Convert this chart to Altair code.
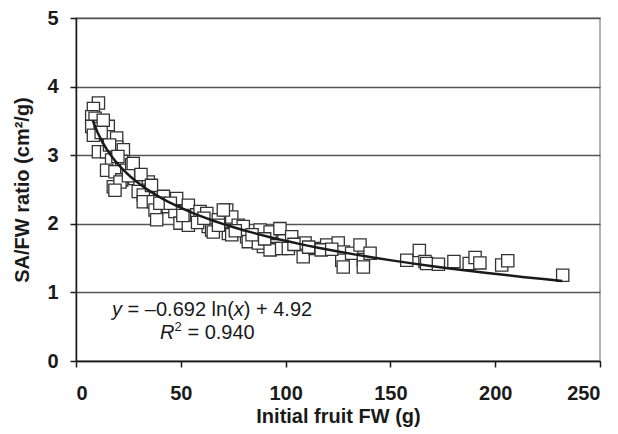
import altair as alt
import pandas as pd

# Initial fruit FW (g)
fw = [10.7, 8.3, 7.5, 9.1, 7.5, 11.5, 15.4, 13.0, 8.3, 15.4, 19.4, 10.7, 14.6, 19.4, 22.6,
      17.0, 21.8, 14.6, 18.6, 24.2, 26.6, 21.8, 28.1, 17.8, 30.5, 34.5, 34.5,
      21.0, 18.6, 27.3, 29.7, 32.1, 32.1, 36.9, 37.7, 41.7, 44.0, 48.0, 47.2, 38.5, 49.6,
      53.6, 56.0, 53.6,
      57.6, 59.2, 62.4, 63.1, 64.7, 67.9, 71.9, 74.3, 72.7, 77.4, 79.8, 81.4, 86.2, 87.8,
      89.4, 94.1, 93.4,
      65.5, 74.3, 82.2, 87.0, 92.6, 70.3,
      92.6, 97.3, 98.1, 102.9, 101.3, 109.3, 108.4, 114.0, 119.6, 125.1, 127.5, 126.8,
      127.5, 131.5, 135.5, 137.1, 137.1, 140.3,
      157.8, 163.8, 166.5, 167.3, 172.9, 180.3, 187.6, 190.4, 192.7, 203.1, 206.0, 232.2,
      12.0, 16.0, 20.0, 25.0, 31.0, 36.0, 40.0, 45.0, 51.0, 58.0, 61.0, 68.0, 76.0, 84.0,
      90.0, 104.0, 111.0, 117.0, 122.0]
# SA/FW ratio (cm2/g)
ratio = [3.76, 3.68, 3.56, 3.54, 3.42, 3.39, 3.42, 3.51, 3.29, 3.27, 3.25, 3.05, 3.05, 3.12, 3.08,
         2.93, 2.91, 2.78, 2.76, 2.78, 2.86, 2.64, 2.66, 2.54, 2.54, 2.61, 2.49,
         2.61, 2.49, 2.88, 2.47, 2.42, 2.32, 2.32, 2.20, 2.40, 2.25, 2.37, 2.18, 2.06, 2.01,
         1.98, 2.13, 2.27,
         2.13, 2.18, 2.15, 1.96, 1.91, 2.06, 2.20, 2.10, 1.86, 1.98, 1.96, 1.81, 1.76, 1.91,
         1.67, 1.64, 1.86,
         1.88, 1.84, 1.74, 1.72, 1.62, 2.20,
         1.88, 1.93, 1.64, 1.81, 1.64, 1.72, 1.52, 1.64, 1.69, 1.72, 1.59, 1.47,
         1.37, 1.57, 1.69, 1.48, 1.37, 1.57,
         1.47, 1.61, 1.45, 1.42, 1.41, 1.45, 1.42, 1.51, 1.43, 1.40, 1.46, 1.25,
         3.33, 3.15, 2.98, 2.70, 2.72, 2.56, 2.30, 2.30, 2.12, 2.02, 2.08, 1.98, 1.90, 1.84,
         1.78, 1.70, 1.66, 1.62, 1.63]

x_ticks = [0, 50, 100, 150, 200, 250]
y_ticks = [0, 1, 2, 3, 4, 5]

df = pd.DataFrame({"x": fw, "y": ratio})

FONT = "Liberation Sans"

xenc = alt.X("x:Q", scale=alt.Scale(domain=[0, 250], nice=False),
             axis=alt.Axis(values=x_ticks, format="d", title="Initial fruit FW (g)", grid=False,
                           labelPadding=16,
                           titleX=262, titleY=55, titleBaseline="middle", titleAlign="center"))
yenc = alt.Y("y:Q", scale=alt.Scale(domain=[0, 5], nice=False),
             axis=alt.Axis(values=y_ticks, format="d", title="SA/FW ratio (cm²/g)", grid=True,
                           titleX=-54, titleY=171.5, titleAngle=270,
                           titleBaseline="middle", titleAlign="center"))

points = alt.Chart(df).mark_point(shape="square", filled=False, fill="white", fillOpacity=1,
                                  stroke="#333333", strokeWidth=1.3, size=150, opacity=1).encode(
    x=xenc, y=yenc)

fit = alt.Chart(df).transform_regression("x", "y", method="log", extent=[8, 232]).mark_line(
    color="#1a1a1a", strokeWidth=2.5).encode(x="x:Q", y="y:Q")

def txt(s, x, y, size=20, style="normal"):
    return alt.Chart(df.head(1)).mark_text(text=s, align="left", baseline="alphabetic",
                                          font=FONT, fontSize=size, fontStyle=style,
                                          color="#1a1a1a").encode(
        x=alt.value(x), y=alt.value(y))

texts = [
    txt("y", 36, 298, style="italic"),
    txt("= –0.692 ln(", 51.6, 298),
    txt("x", 157.8, 298, style="italic"),
    txt(")", 167.8, 298),
    txt("+ 4.92", 180.0, 298),
    txt("R", 84, 321, style="italic"),
    txt("2", 98.6, 313, size=13),
    txt("= 0.940", 111.4, 321),
]

chart = alt.layer(points, fit, *texts).properties(
    width=524, height=343,
    autosize=alt.AutoSizeParams(type="none"),
    padding={"left": 68, "top": 10, "right": 10, "bottom": 66},
).configure_view(
    stroke="#999999", strokeWidth=1.5
).configure_axis(
    labelFont=FONT, labelFontSize=20, labelFontWeight="bold", labelColor="#1a1a1a",
    titleFont=FONT, titleFontSize=20, titleFontWeight="bold", titleColor="#1a1a1a",
    domainColor="#1a1a1a", domainWidth=1.5, tickColor="#1a1a1a", tickWidth=1.5, tickSize=6,
    gridColor="#555555", gridWidth=1.3, labelPadding=12,
)

chart.save("out.html", embed_options={"renderer": "svg", "actions": False})
